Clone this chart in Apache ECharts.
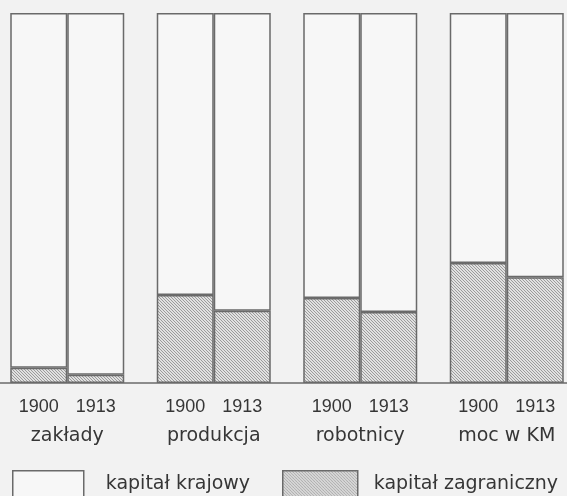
<!DOCTYPE html>
<html><head><meta charset="utf-8">
<script src="https://cdn.jsdelivr.net/npm/echarts@6/dist/echarts.min.js"></script>
<style>html,body{margin:0;padding:0;background:#f2f2f2;overflow:hidden;width:567px;height:496px}
#c{position:absolute;left:-6px;top:0;width:586px;height:496px}</style>
</head><body><div id="c"></div>
<script>
// Data (percent shares)
const categories = ['zakłady', 'produkcja', 'robotnicy', 'moc w KM'];
const years = ['1900', '1913'];
const foreign1900 = [4.1, 23.8, 23.0, 32.4];
const foreign1913 = [2.2, 19.5, 19.2, 28.6];
const domestic1900 = [95.9, 76.2, 77.0, 67.6];
const domestic1913 = [97.8, 80.5, 80.8, 71.4];
const seriesNames = ['kapitał krajowy', 'kapitał zagraniczny'];

// hatch pattern
function makeHatch() {
  const n = 6;
  const cv = document.createElement('canvas');
  cv.width = n; cv.height = n;
  const ctx = cv.getContext('2d');
  const img = ctx.createImageData(n, n);
  for (let y = 0; y < n; y++) {
    for (let x = 0; x < n; x++) {
      const i = (y * n + x) * 4;
      const dark = ((x - y) % 3 + 3) % 3 === 0;
      const c = dark ? 155 : 225;
      img.data[i] = c; img.data[i + 1] = c; img.data[i + 2] = c; img.data[i + 3] = 255;
    }
  }
  ctx.putImageData(img, 0, 0);
  return cv;
}
const hatch = { image: makeHatch(), repeat: 'repeat' };

const lineColor = '#6a6a6a';
const textColor = '#363636';
const numFont = '"Liberation Sans", Arial, sans-serif';
const wordFont = '"DejaVu Sans", sans-serif';

const barBase = { type: 'bar', barWidth: 57, barGap: '0%', silent: true };
const whiteStyle = { color: '#f7f7f7', borderColor: lineColor, borderWidth: 1.5 };
const hatchStyle = { color: hatch, borderColor: lineColor, borderWidth: 1.5 };

const chart = echarts.init(document.getElementById('c'), null, { renderer: 'canvas' });
chart.setOption({
  backgroundColor: '#f2f2f2',
  animation: false,
  grid: { left: 0, right: 0, top: 13, bottom: 113 },
  xAxis: {
    type: 'category',
    data: categories,
    axisLine: { lineStyle: { color: lineColor, width: 1.5 } },
    axisTick: { show: false },
    axisLabel: {
      margin: 10,
      interval: 0,
      formatter: v => `{y|${years[0]}}{y|${years[1]}}\n{c|${v}}`,
      rich: {
        y: { width: 57, align: 'center', fontSize: 18, lineHeight: 29, color: textColor, fontFamily: numFont },
        c: { fontSize: 19, lineHeight: 29, color: textColor, fontFamily: wordFont }
      }
    }
  },
  yAxis: { type: 'value', min: 0, max: 100, show: false },
  legend: [
    {
      data: [seriesNames[0]], left: 13, top: 465, icon: 'rect',
      itemWidth: 71, itemHeight: 26,
      itemStyle: { borderColor: lineColor, borderWidth: 1.5 },
      textStyle: { fontSize: 19, color: textColor, fontFamily: wordFont, padding: [0, 0, 8, 17] },
      selectedMode: false
    },
    {
      data: [seriesNames[1]], left: 283, top: 465, icon: 'rect',
      itemWidth: 75, itemHeight: 26,
      itemStyle: { borderColor: lineColor, borderWidth: 1.5 },
      textStyle: { fontSize: 19, color: textColor, fontFamily: wordFont, padding: [0, 0, 8, 11] },
      selectedMode: false
    }
  ],
  series: [
    Object.assign({}, barBase, { name: seriesNames[1], stack: 'y1900', data: foreign1900, itemStyle: hatchStyle }),
    Object.assign({}, barBase, { name: seriesNames[0], stack: 'y1900', data: domestic1900, itemStyle: whiteStyle }),
    Object.assign({}, barBase, { name: seriesNames[1], stack: 'y1913', data: foreign1913, itemStyle: hatchStyle }),
    Object.assign({}, barBase, { name: seriesNames[0], stack: 'y1913', data: domestic1913, itemStyle: whiteStyle })
  ]
});
</script>
</body></html>
